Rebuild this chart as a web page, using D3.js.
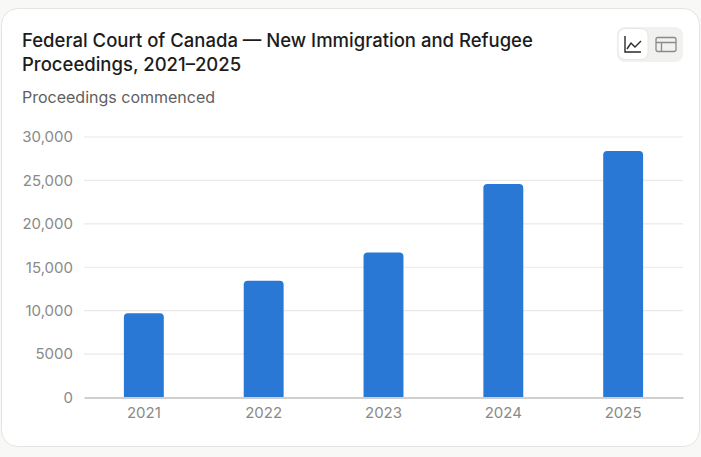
<!DOCTYPE html>
<html>
<head>
<meta charset="utf-8">
<script src="https://cdn.jsdelivr.net/npm/d3@7"></script>
<style>
  body { margin: 0; background: #f8f8f6; font-family: Inter, "Noto Sans", sans-serif; }
</style>
</head>
<body>
<div id="chart"></div>
<script>
// data
var years = ["2021", "2022", "2023", "2024", "2025"];
var proceedings = [9700, 13450, 16700, 24600, 28400];
var yTicks = [0, 5000, 10000, 15000, 20000, 25000, 30000];

var W = 701, H = 457;
var margin = {top: 137, right: 18, bottom: 60, left: 84},
    width = 683 - margin.left,
    height = 397.5 - margin.top;

var svg = d3.select("#chart")
  .append("svg")
    .attr("width", W)
    .attr("height", H);

// card
svg.append("rect")
  .attr("x", 1.5).attr("y", 8.5)
  .attr("width", W - 3).attr("height", 438)
  .attr("rx", 16)
  .attr("fill", "#fff")
  .attr("stroke", "#e4e4e2");

// title + subtitle
var title = svg.append("text")
  .attr("x", 22).attr("y", 47)
  .style("font-size", "18.5px")
  .style("font-weight", 500)
  .attr("fill", "#1c1c1c");
title.append("tspan").attr("x", 22).text("Federal Court of Canada — New Immigration and Refugee");
title.append("tspan").attr("x", 22).attr("dy", 24).text("Proceedings, 2021–2025");

svg.append("text")
  .attr("x", 22).attr("y", 103)
  .style("font-size", "16px")
  .attr("fill", "#5f5f5f")
  .text("Proceedings commenced");

// toggle buttons (top right)
var tg = svg.append("g");
tg.append("rect").attr("x", 617).attr("y", 27).attr("width", 66).attr("height", 35)
  .attr("rx", 8).attr("fill", "#f1f1ef");
tg.append("rect").attr("x", 618).attr("y", 28.5).attr("width", 30).attr("height", 31)
  .attr("rx", 7).attr("fill", "#fff").attr("stroke", "#e6e6e4");
tg.append("path")
  .attr("d", "M625,36 V52 H641 M627,49 L631,43 L635,47 L641,41")
  .attr("fill", "none").attr("stroke", "#2a2a2a").attr("stroke-width", 1.4);
tg.append("rect").attr("x", 656).attr("y", 37.5).attr("width", 20).attr("height", 14)
  .attr("rx", 2).attr("fill", "none").attr("stroke", "#8a8a88").attr("stroke-width", 1.3);
tg.append("path")
  .attr("d", "M656,42.5 H676 M661.5,42.5 V51.5")
  .attr("fill", "none").attr("stroke", "#8a8a88").attr("stroke-width", 1.3);

var g = svg.append("g")
  .attr("transform", "translate(" + margin.left + "," + margin.top + ")");

// scales
var x = d3.scaleBand()
  .domain(years)
  .range([0, width])
  .paddingInner(0.667)
  .paddingOuter(0.333);

var y = d3.scaleLinear()
  .domain([0, 30000])
  .range([height, 0]);

// gridlines
g.append("g")
  .selectAll("line")
  .data(yTicks.filter(d => d > 0))
  .join("line")
    .attr("x1", 0).attr("x2", width)
    .attr("y1", d => y(d)).attr("y2", d => y(d))
    .attr("stroke", "#e9e9e7")
    .attr("stroke-width", 1.2);

// y axis
var yAxis = g.append("g")
  .call(d3.axisLeft(y).tickValues(yTicks).tickSize(0).tickPadding(11)
    .tickFormat(d => d >= 10000 ? d3.format(",")(d) : d));
yAxis.select(".domain").remove();
yAxis.selectAll("text")
  .style("font-size", "15px")
  .style("font-family", "Inter, sans-serif")
  .attr("fill", "#8a8a88");

// bars
g.selectAll(".bar")
  .data(proceedings)
  .join("path")
    .attr("class", "bar")
    .attr("fill", "#2a78d6")
    .attr("d", (d, i) => {
      var x0 = x(years[i]), w = x.bandwidth(), y0 = y(d), r = 4;
      return "M" + x0 + "," + y(0) +
        "V" + (y0 + r) +
        "Q" + x0 + "," + y0 + " " + (x0 + r) + "," + y0 +
        "H" + (x0 + w - r) +
        "Q" + (x0 + w) + "," + y0 + " " + (x0 + w) + "," + (y0 + r) +
        "V" + y(0) + "Z";
    });

// x axis
var xAxis = g.append("g")
  .attr("transform", "translate(0," + height + ")")
  .call(d3.axisBottom(x).tickSize(0).tickPadding(10));
xAxis.select(".domain")
  .attr("stroke", "#cfcfcc")
  .attr("stroke-width", 2);
xAxis.selectAll("text")
  .style("font-size", "15px")
  .style("font-family", "Inter, sans-serif")
  .attr("fill", "#8a8a88");
</script>
</body>
</html>
